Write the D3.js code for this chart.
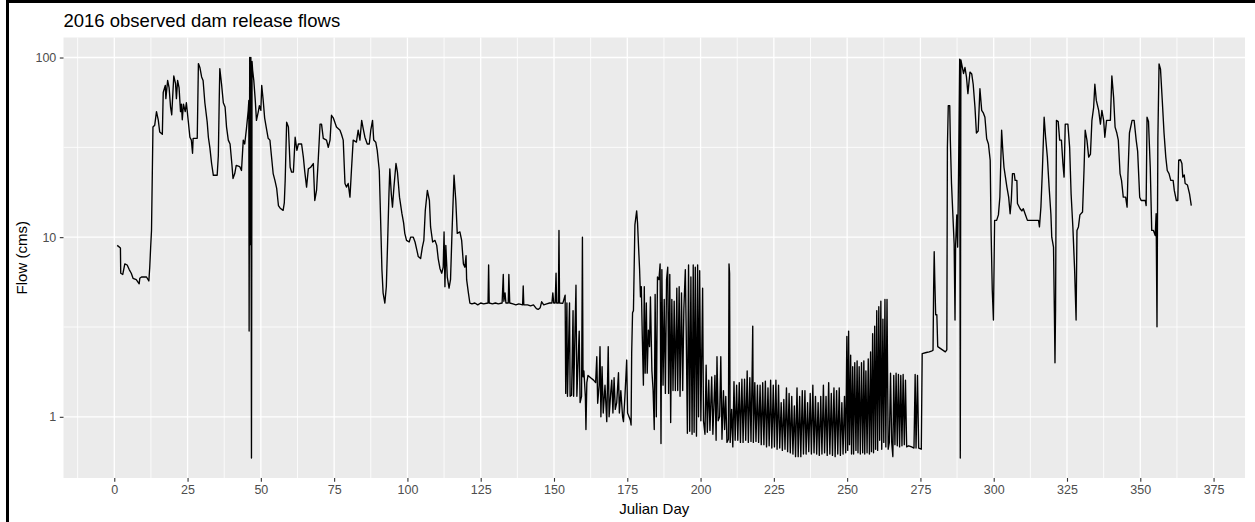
<!DOCTYPE html>
<html>
<head>
<meta charset="utf-8">
<script src="https://cdn.jsdelivr.net/npm/d3@7/dist/d3.min.js"></script>
<style>
  html, body { margin: 0; padding: 0; background: #ffffff; }
  svg { display: block; }
  text { font-family: "Liberation Sans", Arial, sans-serif; }
</style>
</head>
<body>
<svg id="chart" width="1255" height="522"></svg>
<script>
// Observed daily dam release flows for 2016, [julian day, flow in cms]
const winterFlows = [
  [1,9.0],[2.1,8.7],[2.2,6.3],[2.9,6.2],[3.6,7.1],[4.4,7.0],[5.1,6.6],[5.8,6.3],[6.4,5.9],[7.5,5.8],
  [8.5,5.5],[8.7,5.9],[9.3,6.0],[11,6.0],[11.8,5.7],[12.1,6.8],[12.4,8.7],[12.7,10.9],[13.2,41],[13.8,42],
  [14.4,50],[15,45],[15.5,38.5],[16.4,37.4],[16.7,64],[17.4,70],[17.6,59],[18.2,74.5],[18.7,68],[19.2,53],
  [19.6,48],[20.3,79],[20.9,71.5],[21.2,59],[21.6,74.5],[22.1,68],[22.6,50],[22.9,55],[23.2,45],[23.6,55],
  [24.2,50],[24.6,56],[25.2,45],[25.8,36],[26.3,34.7],[26.7,29.3],[26.9,35.5],[28.3,35.5],[28.7,92.5],[29.2,88],
  [29.8,78],[30.3,74.5],[30.9,56],[31.7,43.7],[32.1,36],[32.6,31.6],[33.2,25.7],[33.8,22.1],[35.1,22.1],[35.5,28.5],
  [35.8,57.7],[36,86.7],[36.6,71],[37.2,56],[37.8,53],[38.3,41],[38.9,34.7],[39.5,33],[40.1,25.7],[40.5,21.2],
  [41.1,22.6],[41.6,25.1],[42.8,24.7],[43.4,23.5],[44,34.7],[44.5,33],[45.1,40.3],[45.7,50.8],[45.9,57.7],[46.0,3.0],
  [46.2,100],[46.4,9.1],[46.6,100],[46.8,0.59],[47.0,95],[47.2,85],[47.6,74.5],[48.1,57.7],[48.5,44.7],[49.1,49.7],
  [49.5,54],[50,50.8],[50.3,70],[50.8,57.7],[51.3,46],[51.9,40.3],[52.5,35.5],[53.1,34.7],[53.6,28.5],[54.2,22.6],
  [54.8,20.7],[55.4,18.7],[56,15],[56.6,14.5],[57.6,14.1],[58,15.5],[58.3,20.7],[58.8,43.7],[59.4,41],[60,24.5],
  [60.5,23],[61.1,23]
];

const springFlows = [
  [61.7,36],[62.3,30.4],[62.8,33],[63.9,33],[64.5,27.9],[65,23],[65.6,19],[66.2,24],[67,24.5],[67.9,25.7],
  [68.4,16],[69,18.2],[69.6,27.4],[70.2,42.6],[70.7,42.6],[71.3,35.5],[72.4,34.7],[73,31.6],[73.6,34.7],[74.1,47.7],
  [74.7,46.2],[75.8,41],[77,39.4],[77.5,37.4],[78.1,34.7],[78.7,19.9],[79.2,19],[79.8,19.9],[80.4,16.7],[80.9,23.5],
  [81.5,34.7],[82.6,33.8],[83.2,39.4],[83.8,34.7],[84.4,44.7],[84.9,40.3],[85.5,36],[86.3,33],[87,33],[87.5,39.4],
  [88.1,44.7],[88.5,34.7],[89.2,33.8],[89.7,30.4],[90.4,23.5],[90.8,13.6],[91.3,6.6],[91.7,4.9],[92.3,4.3],[92.8,5.3],
  [93.2,8.8],[93.7,17.4],[94,24],[94.5,17.4],[94.9,14.7],[95.4,19],[96.1,25.7],[96.6,23],[97.3,16.7],[98.1,13.6],
  [98.7,12],[99.1,10.5],[99.7,9.6],[100.6,9.4],[101.1,10],[102,10],[102.6,9.4],[103.2,8.5],[103.7,7.8],[104.5,7.6],
  [105.1,8.8],[105.6,9.6],[106.1,14.1],[106.8,18.2],[107.5,16],[107.9,11.4],[108.6,9.4],[109.4,9.6],[110,9.0],[110.5,7.6],
  [111.1,6.7],[111.7,6.3],[112.2,6.8],[112.5,10.7],[112.8,5.3],[113.1,9.0],[113.6,6.0],[114.2,5.2],[114.7,5.8],[115.2,10.5],
  [115.9,22.1],[116.5,16],[117,10.5],[117.9,10.7],[118.5,9.6],[119.1,7.1],[119.6,6.8],[120,7.9],[120.2,5.8],[120.8,4.9],
  [121.3,4.3]
];

const earlySummerFlows = [
  [122,4.25],[123,4.3],[124,4.2],[125,4.3],[126,4.25],[127.5,4.3],[127.7,7.0],[127.9,4.3],[129,4.25],[130,4.3],
  [131,4.25],[132.3,4.3],[132.7,6.2],[132.9,4.4],[133.3,4.9],[133.6,4.3],[134.4,4.3],[134.6,6.2],[134.9,4.3],[136,4.25],
  [137,4.2],[138,4.25],[139.3,4.2],[139.5,5.35],[139.7,4.2],[141,4.2],[142,4.15],[143,4.2],[144,4.0],[144.6,3.96],
  [145.3,4.05],[145.8,4.37],[146.5,4.2],[147.5,4.25],[148.5,4.3],[149.3,4.3],[149.6,4.9],[149.9,4.3],[150.4,4.3],[150.7,6.3],
  [150.9,4.3],[151.5,4.3],[151.7,10.9],[151.9,4.3],[153,4.28],[153.8,4.76]
];

const peakingFlows = [
  [154.0,1.35],[154.4,4.3],[154.6,1.3],[155.3,4.3],[155.5,1.3],[156.0,1.32],[156.5,3.9],[156.7,1.3],[157.5,5.4],[157.8,1.3],
  [158.6,3.0],[158.9,1.2],[159.4,1.3],[159.7,10],[159.9,1.67],[160.2,1.8],[160.7,1.3],[160.9,0.85],[161.2,1.55],[161.6,1.7],
  [162.5,1.65],[163.5,1.6],[164.2,1.55],[164.6,2.16],[164.9,1.19],[165.4,1.5],[165.7,2.46],[166,1.0],[166.4,1.9],[166.8,1.05],
  [167.4,1.5],[168,0.94],[168.5,2.46],[168.8,1.0],[169.4,1.4],[169.7,1.6],[170.1,1.05],[170.5,1.65],[170.9,1.1],[171.4,1.2],
  [172,1.76],[172.3,1.05],[172.8,1.4],[173.4,1.0],[173.7,0.94],[174.2,1.3],[174.8,2.07],[175.1,1.05],[175.6,1.0],[176.1,0.95],
  [176.3,0.9],[176.5,2.26],[176.8,3.8],[177.1,3.9],[177.6,11.7],[178.2,14],[178.5,12],[178.8,9.2],[179.2,6.6],[179.5,4.65],
  [179.8,5.3],[180.1,2.9],[180.5,1.5],[180.8,5.3],[181.1,1.75],[181.5,4.3],[181.8,1.75],[182.2,3.04],[182.6,2.46],[182.9,4.65],
  [183.4,1.8],[183.8,1.41],[184.2,0.85],[184.5,4.8],[184.9,1.0],[185.3,6.0],[185.8,5.8],[186.2,7.1],[186.5,0.71],[186.8,6.6],
  [187.2,1.5],[187.6,4.5],[188,1.35],[188.4,5.8],[188.8,6.8],[189.1,1.35],[189.5,6.2],[189.8,0.93],[190.2,4.5],[190.6,1.4],
  [191,4.4],[191.4,1.4],[191.9,5.2],[192.2,1.4],[192.7,5.3],[193,1.3],[193.5,4.9],[193.9,1.4],[194.3,4.0],[194.8,6.6],
  [195.1,3.0],[195.5,0.81],[195.9,7.0],[196.3,0.83],[196.7,6.0],[197.1,0.8],[197.5,7.0],[197.8,0.82],[198.2,6.8],[198.6,0.78],
  [199,7.0],[199.3,1.0],[199.7,6.5],[200.1,0.95],[200.7,5.2],[201,0.95],[201.5,0.8],[201.9,1.94],[202.3,0.82],[202.8,1.6],
  [203.2,0.84],[203.8,1.67],[204.2,0.8],[204.9,1.7],[205.3,0.74],[205.6,2.16],[206,0.95],[206.5,1.0],[206.9,2.16],[207.3,0.75],
  [207.8,1.4],[208.2,0.85],[208.6,1.3],[209,0.72],[209.5,0.75],[209.7,7.1],[209.9,6.3],[210.1,0.72],[210.6,1.1],[211,0.68],
  [211.4,1.57],[211.8,0.74],[212.3,1.5],[212.7,0.74],[213.2,1.55],[213.6,0.72],[214.1,1.62],[214.5,0.72],[215,1.62],[215.4,0.74],
  [215.9,1.8],[216.3,0.72],[216.8,1.65],[217.2,0.73],[217.6,1.82],[217.8,3.2],[218,0.72],[218.5,1.55],[218.9,0.73],[219.4,1.5],
  [219.8,0.72],[220.3,1.5],[220.7,0.7],[221.2,1.55],[221.6,0.7],[222.1,1.58],[222.5,0.68],[223,1.45],[223.4,0.69],[223.9,1.6],
  [224.3,0.67],[224.8,1.5],[225.2,0.68],[225.7,1.6],[226.1,0.66],[226.6,1.5],[227,0.67],[227.5,1.2],[227.9,0.65],[228.4,1.25],
  [228.8,0.66],[229.3,1.45],[229.7,0.64],[230.2,1.35],[230.6,0.63],[231.1,1.3],[231.5,0.62],[232,1.15],[232.4,0.6],[232.9,1.45],
  [233.3,0.6],[233.8,1.3],[234.2,0.6],[234.7,1.4],[235.1,0.62],[235.6,1.4],[236,0.62],[236.5,1.2],[236.9,0.64],[237.4,1.35],
  [237.8,0.62],[238.3,1.5],[238.7,0.63],[239.2,1.3],[239.6,0.62],[240.1,1.2],[240.5,0.61],[241,1.3],[241.4,0.62],[241.9,1.5],
  [242.3,0.63],[242.8,1.3],[243.2,0.61],[243.7,1.55],[244.1,0.62],[244.6,1.35],[245,0.61],[245.5,1.45],[245.9,0.6],[246.4,1.4],
  [246.8,0.62],[247.3,1.45],[247.7,0.61],[248.2,1.2],[248.6,0.62],[249.1,1.3],[249.5,0.63],[249.9,2.8],[250.2,0.65],[250.5,3.0],
  [250.8,0.7],[251.2,2.2],[251.5,0.62],[251.9,1.9],[252.2,0.62],[252.6,2.0],[253,0.65],[253.4,2.05],[253.7,0.63],[254.1,1.9],
  [254.5,0.62],[254.9,2.0],[255.3,0.63],[255.7,2.05],[256,0.62],[256.4,1.8],[256.8,0.63],[257.2,2.1],[257.6,0.62],[258,2.3],
  [258.3,0.64],[258.7,2.9],[259,0.63],[259.4,3.2],[259.7,0.66],[260.1,3.9],[260.4,0.65],[260.8,4.1],[261.1,0.74],[261.5,4.4],
  [261.8,0.66],[262.2,3.5],[262.5,0.72],[262.9,4.5],[263.2,0.68],[263.6,4.5],[264,0.66],[264.4,0.72],[264.8,1.75],[265.2,0.72],
  [265.6,0.6],[265.9,1.7],[266.3,0.7],[266.7,1.75],[267.1,0.69],[267.5,1.72],[267.9,0.68],[268.3,1.7],[268.7,0.69],[269.1,1.72],
  [269.5,0.7],[269.9,1.6],[270.3,0.68],[271,0.69],[272,0.68],[272.8,0.67],[273.2,1.72],[273.5,0.67],[274,1.7],[274.4,0.67],
  [275.3,0.66]
];

const autumnFlows = [
  [275.6,2.25],[277,2.28],[278,2.3],[279,2.33],[279.3,2.35],[279.5,5.1],[279.7,8.3],[279.9,5.8],[280.2,3.7],[280.6,3.7],
  [280.9,2.46],[282.5,2.36],[283.5,2.3],[284,2.36],[284.2,31.6],[284.5,54],[285,54],[285.2,34.7],[285.6,19.9],[286.5,9.2],
  [286.8,3.46],[287,9],[287.4,13.3],[287.7,8.8],[288,22.6],[288.4,98],[288.6,0.59],[288.8,97],[289.7,81.5],[290.2,88],
  [290.7,78],[291.2,63],[291.9,83],[292.5,81],[293,71],[293.6,53],[294.1,38],[294.7,39],[295.3,67],[295.9,50.8],
  [296.5,49],[297,46.5],[297.6,35.3],[298.2,33],[298.8,26.8],[299.1,10.9],[299.5,5.1],[299.9,3.46],[300.3,12.4],[301,12.4],
  [301.6,13.3],[302.1,16.7],[302.7,39.4],[303.1,30.4],[303.5,24.5],[304,21.6],[304.5,19],[305.1,16.7],[305.6,13.5],[306,16],
  [306.4,22.6],[307,22.6],[307.3,20.7],[307.9,20.7],[308.1,15.4],[309,14.4],[309.6,14],[310.1,14.4],[310.7,13.5],[311.5,12.4],
  [313,12.4],[315.3,12.4],[315.6,11.4],[316.1,14.7],[316.6,23.5],[317.2,46.5],[317.7,36],[318.3,27.9],[318.9,19],[319.5,13.5],
  [319.8,10],[320.4,8.8],[320.7,3.77],[320.9,2.0],[321.1,4.0],[321.4,44.7],[322,44],[322.5,34.7],[323.1,34.7],[323.6,25.7],
  [324,21.6],[324.4,42.6],[325.3,42.6],[325.9,31.6],[326.4,17.4],[327,11.4],[327.6,6.56],[328.1,3.46],[328.4,10.9],[328.9,11.4],
  [329.4,13.3],[330.3,13.8],[330.8,23.5],[331.2,39.4],[331.8,34.7],[332.4,27.9],[333,29],[333.5,44.7],[334.1,53],[334.5,71],
  [335,57.7],[335.8,50.8],[336.4,42.6],[336.9,50.8],[337.5,44.7],[337.9,36],[338.5,44.7],[339.8,44.7],[340.3,79],[340.9,60],
  [341.4,41],[342,38],[342.5,34.7],[343.1,22.6],[343.6,20.7],[344.2,16.7],[345,16.7],[345.5,14.7],[345.8,22.6],[346.3,38],
  [347.2,44.7],[347.9,44.7],[348.6,34.7],[349.1,30],[349.8,16.7],[350.3,16],[351.7,16],[352,15],[352.3,46.5],[352.8,44],
  [353.4,24.5],[353.9,10.9],[354.5,10.9],[355.1,10.2],[355.4,13.5],[355.7,3.17],[356,36],[356.4,92],[356.9,86],[357.5,57.7],
  [358.1,38],[358.7,27.9],[359.2,23.5],[359.8,22.6],[360.4,20.7],[361.2,20.7],[361.6,18.2],[362.3,16],[362.8,16],[363.1,26.8],
  [363.7,27],[364.2,25.7],[364.5,21.6],[365,22.2],[365.3,19.9],[366.1,19.5],[366.8,17.4],[367.4,15]
];

const xTicks = [0, 25, 50, 75, 100, 125, 150, 175, 200, 225, 250, 275, 300, 325, 350, 375];
const yTicks = [1, 10, 100];
const titleText = "2016 observed dam release flows";
const xTitle = "Julian Day";
const yTitle = "Flow (cms)";

const flows = [].concat(winterFlows, springFlows, earlySummerFlows, peakingFlows, autumnFlows);

const svg = d3.select("#chart");
const W = 1255, H = 522;
const panel = { left: 63.5, right: 1245, top: 37.5, bottom: 478 };

// continuous x with 5% padding on each side
const xExt = d3.extent(flows, d => d[0]);
const xPad = (xExt[1] - xExt[0]) * 0.05;
const x = d3.scaleLinear()
  .domain([xExt[0] - xPad, xExt[1] + xPad])
  .range([panel.left, panel.right]);

// log10 y with 5% padding in log space
const yExt = d3.extent(flows, d => d[1]);
const lMin = Math.log10(yExt[0]), lMax = Math.log10(yExt[1]);
const lPad = (lMax - lMin) * 0.05;
const y = d3.scaleLog()
  .domain([Math.pow(10, lMin - lPad), Math.pow(10, lMax + lPad)])
  .range([panel.bottom, panel.top]);

// frame around the figure
svg.append("rect").attr("x", 6).attr("y", 0).attr("width", W - 6).attr("height", 3).attr("fill", "#000");
svg.append("rect").attr("x", 6).attr("y", 0).attr("width", 3).attr("height", H).attr("fill", "#000");

// panel background
svg.append("rect")
  .attr("x", panel.left).attr("y", panel.top)
  .attr("width", panel.right - panel.left).attr("height", panel.bottom - panel.top)
  .attr("fill", "#EBEBEB");

const grid = svg.append("g");
const [xd0, xd1] = x.domain();
const [yd0, yd1] = y.domain();

// minor grid: halfway between major breaks
const xMinor = [];
const step = xTicks[1] - xTicks[0];
for (let v = xTicks[0] - step / 2; v <= xd1; v += step) if (v >= xd0) xMinor.push(v);
const yMinor = [];
const ySteps = [yTicks[0] / 10].concat(yTicks, [yTicks[yTicks.length - 1] * 10]);
for (let i = 0; i < ySteps.length - 1; i++) {
  const m = Math.sqrt(ySteps[i] * ySteps[i + 1]);
  if (m >= yd0 && m <= yd1) yMinor.push(m);
}

grid.selectAll(".xminor").data(xMinor).enter().append("line")
  .attr("x1", d => x(d)).attr("x2", d => x(d))
  .attr("y1", panel.top).attr("y2", panel.bottom)
  .attr("stroke", "#fff").attr("stroke-width", 0.8);
grid.selectAll(".yminor").data(yMinor).enter().append("line")
  .attr("y1", d => y(d)).attr("y2", d => y(d))
  .attr("x1", panel.left).attr("x2", panel.right)
  .attr("stroke", "#fff").attr("stroke-width", 0.8);
grid.selectAll(".xmajor").data(xTicks).enter().append("line")
  .attr("x1", d => x(d)).attr("x2", d => x(d))
  .attr("y1", panel.top).attr("y2", panel.bottom)
  .attr("stroke", "#fff").attr("stroke-width", 1.3);
grid.selectAll(".ymajor").data(yTicks).enter().append("line")
  .attr("y1", d => y(d)).attr("y2", d => y(d))
  .attr("x1", panel.left).attr("x2", panel.right)
  .attr("stroke", "#fff").attr("stroke-width", 1.3);

// flow line
const line = d3.line().x(d => x(d[0])).y(d => y(d[1]));
svg.append("path")
  .datum(flows)
  .attr("d", line)
  .attr("fill", "none")
  .attr("stroke", "#000")
  .attr("stroke-width", 1.35)
  .attr("stroke-linejoin", "round");

// axes
const xAxis = svg.append("g")
  .attr("transform", `translate(0,${panel.bottom})`)
  .call(d3.axisBottom(x).tickValues(xTicks).tickSize(3.7).tickPadding(3.5).tickFormat(d3.format("d")));
const yAxis = svg.append("g")
  .attr("transform", `translate(${panel.left},0)`)
  .call(d3.axisLeft(y).tickValues(yTicks).tickSize(3.7).tickPadding(3.5).tickFormat(d3.format("d")));

[xAxis, yAxis].forEach(g => {
  g.select(".domain").remove();
  g.selectAll(".tick line").attr("stroke", "#333333").attr("stroke-width", 1.1);
  g.selectAll(".tick text")
    .attr("fill", "#4D4D4D")
    .style("font-size", "12.5px")
    .style("font-family", '"Liberation Sans", Arial, sans-serif');
});

// titles
svg.append("text")
  .attr("x", panel.left).attr("y", 26.5)
  .attr("fill", "#000")
  .style("font-size", "18.5px")
  .text(titleText);

svg.append("text")
  .attr("x", (panel.left + panel.right) / 2).attr("y", 514)
  .attr("text-anchor", "middle")
  .attr("fill", "#000")
  .style("font-size", "15px")
  .text(xTitle);

svg.append("text")
  .attr("transform", `translate(27,${(panel.top + panel.bottom) / 2}) rotate(-90)`)
  .attr("text-anchor", "middle")
  .attr("fill", "#000")
  .style("font-size", "15px")
  .text(yTitle);
</script>
</body>
</html>
